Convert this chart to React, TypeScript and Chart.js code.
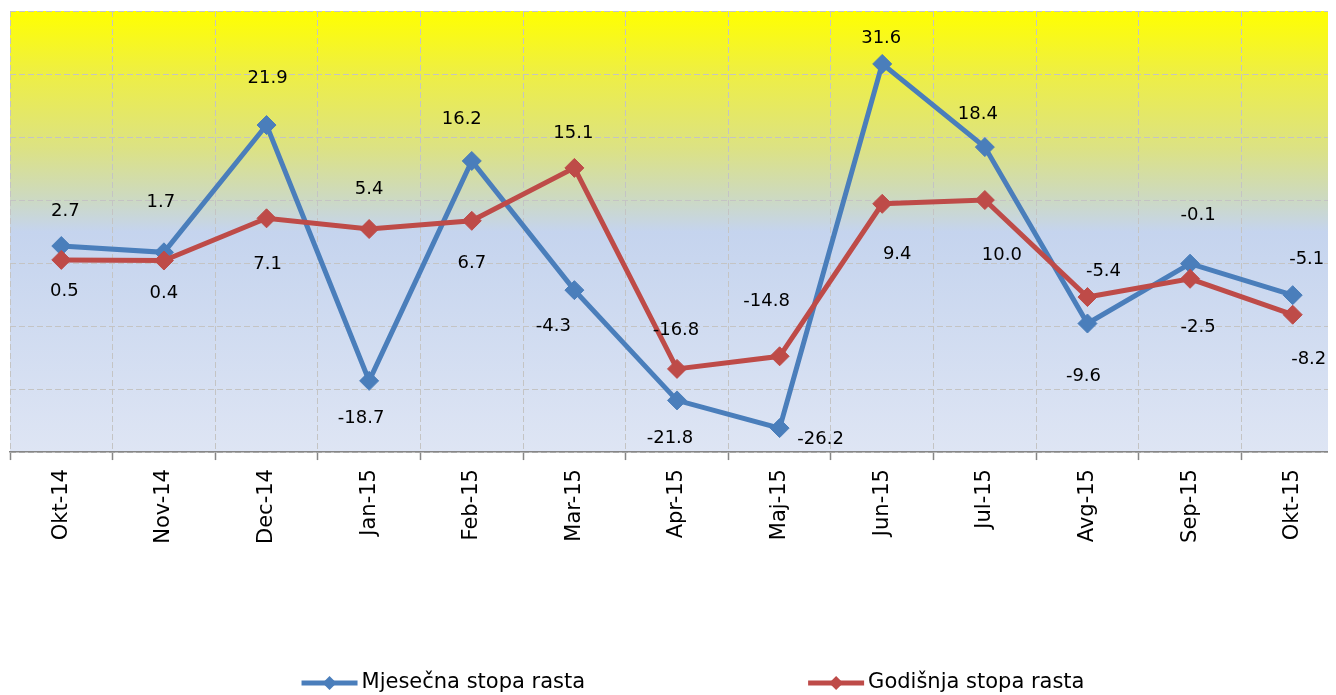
import React, { useEffect, useRef } from 'react';
import { Chart, registerables } from 'chart.js';

Chart.register(...registerables);

// ---------- data ----------
const categories = ['Okt-14', 'Nov-14', 'Dec-14', 'Jan-15', 'Feb-15', 'Mar-15', 'Apr-15', 'Maj-15', 'Jun-15', 'Jul-15', 'Avg-15', 'Sep-15', 'Okt-15'];
const monthlyRate = [2.7, 1.7, 21.9, -18.7, 16.2, -4.3, -21.8, -26.2, 31.6, 18.4, -9.6, -0.1, -5.1];
const annualRate = [0.5, 0.4, 7.1, 5.4, 6.7, 15.1, -16.8, -14.8, 9.4, 10.0, -5.4, -2.5, -8.2];
const seriesNames = ['Mjesečna stopa rasta', 'Godišnja stopa rasta'];
const yMin = -30;
const yMax = 40;
const yStep = 10;

// ---------- styling ----------
const FONT = '"DejaVu Sans", "Liberation Sans", Arial, sans-serif';
const BLUE = '#4A7EBB';
const RED = '#BE4B48';
const GRID = '#C4C4C4';
const AXIS = '#868686';
// data label offsets relative to each point (px)
const monthlyLabelOffsets = [[4, -35], [-3, -50], [1, -47], [-8, 37], [-10, -42], [-21, 36], [-7, 38], [41, 11], [-1, -26], [-7, -33], [-4, 53], [8, -48], [14, -36]];
const annualLabelOffsets = [[3, 31], [0, 33], [1, 46], [0, -40], [0, 43], [-1, -35], [-1, -39], [-13, -55], [15, 51], [17, 55], [16, -26], [8, 49], [16, 45]];
const labelOffsets = [monthlyLabelOffsets, annualLabelOffsets];

const backgroundPlugin = {
  id: 'plotBackground',
  beforeDraw(chart: any) {
    const { ctx, chartArea } = chart;
    if (!chartArea) return;
    const g = ctx.createLinearGradient(0, chartArea.top, 0, chartArea.bottom);
    g.addColorStop(0, '#FFFF00');
    g.addColorStop(0.15, '#EDEE48');
    g.addColorStop(0.31, '#DCE283');
    g.addColorStop(0.43, '#CCD9C4');
    g.addColorStop(0.5, '#C5D4EE');
    g.addColorStop(1, '#DEE5F4');
    ctx.save();
    ctx.fillStyle = g;
    ctx.fillRect(chartArea.left, chartArea.top, chartArea.right - chartArea.left, chartArea.bottom - chartArea.top);
    ctx.restore();
  },
};

const dataLabelPlugin = {
  id: 'pointValueLabels',
  afterDatasetsDraw(chart: any) {
    const { ctx } = chart;
    ctx.save();
    ctx.font = `18px ${FONT}`;
    ctx.fillStyle = '#000000';
    ctx.textAlign = 'center';
    ctx.textBaseline = 'middle';
    chart.data.datasets.forEach((ds: any, di: number) => {
      const meta = chart.getDatasetMeta(di);
      meta.data.forEach((pt: any, i: number) => {
        const v = ds.data[i];
        const off = labelOffsets[di][i] || [0, -30];
        ctx.fillText(Number(v).toFixed(1), pt.x + off[0], pt.y + off[1]);
      });
    });
    ctx.restore();
  },
};

const legendPlugin = {
  id: 'lineLegend',
  afterDraw(chart: any) {
    const { ctx, chartArea } = chart;
    const ds = chart.data.datasets;
    const markerW = 56;
    const textGap = 4;
    const itemGap = 223;
    ctx.save();
    ctx.font = `21px ${FONT}`;
    const widths = ds.map((d: any) => markerW + textGap + ctx.measureText(d.label).width);
    const total = widths.reduce((a: number, b: number) => a + b, 0) + itemGap * (ds.length - 1);
    let x = (chartArea.left + chartArea.right) / 2 + 16 - total / 2;
    const y = chart.height - 12;
    ds.forEach((d: any, i: number) => {
      ctx.strokeStyle = d.borderColor;
      ctx.lineWidth = 5;
      ctx.lineCap = 'butt';
      ctx.beginPath();
      ctx.moveTo(x, y);
      ctx.lineTo(x + markerW, y);
      ctx.stroke();
      const cx = x + markerW / 2;
      const r = 7;
      ctx.fillStyle = d.borderColor;
      ctx.beginPath();
      ctx.moveTo(cx, y - r);
      ctx.lineTo(cx + r, y);
      ctx.lineTo(cx, y + r);
      ctx.lineTo(cx - r, y);
      ctx.closePath();
      ctx.fill();
      ctx.fillStyle = '#000000';
      ctx.textAlign = 'left';
      ctx.textBaseline = 'middle';
      ctx.fillText(d.label, x + markerW + textGap, y);
      x += widths[i] + itemGap;
    });
    ctx.restore();
  },
};

export default function App() {
  const canvasRef = useRef<HTMLCanvasElement | null>(null);

  useEffect(() => {
    document.documentElement.style.overflow = 'hidden';
    const canvas = canvasRef.current;
    if (!canvas) return;
    const chart = new Chart(canvas, {
      type: 'line',
      data: {
        labels: categories,
        datasets: [
          {
            label: seriesNames[0],
            data: monthlyRate,
            borderColor: BLUE,
            backgroundColor: BLUE,
            borderWidth: 5,
            pointStyle: 'rectRot',
            pointRadius: 9.5,
            pointBorderWidth: 1,
            pointBackgroundColor: BLUE,
            pointBorderColor: BLUE,
            tension: 0,
            order: 1,
          },
          {
            label: seriesNames[1],
            data: annualRate,
            borderColor: RED,
            backgroundColor: RED,
            borderWidth: 5,
            pointStyle: 'rectRot',
            pointRadius: 9.5,
            pointBorderWidth: 1,
            pointBackgroundColor: RED,
            pointBorderColor: RED,
            tension: 0,
            order: 0,
          },
        ],
      },
      options: {
        responsive: false,
        animation: false,
        devicePixelRatio: 1,
        layout: { autoPadding: false, padding: { left: 2, top: 3, right: 4, bottom: 142 } },
        plugins: {
          legend: { display: false },
          tooltip: { enabled: false },
        },
        scales: {
          x: {
            offset: true,
            grid: {
              offset: true,
              color: GRID,
              lineWidth: 1,
              drawTicks: true,
              tickLength: 8,
              tickColor: AXIS,
              tickWidth: 1.5,
              tickBorderDash: [],
            },
            border: { display: true, color: AXIS, width: 1.5, dash: [6, 3] },
            ticks: {
              minRotation: 90,
              maxRotation: 90,
              autoSkip: false,
              padding: 9,
              color: '#000000',
              font: { family: FONT, size: 21 },
            },
          },
          y: {
            min: yMin,
            max: yMax,
            ticks: { display: false, stepSize: yStep },
            grid: { color: GRID, lineWidth: 1, drawTicks: false },
            border: { display: false, dash: [6, 3] },
          },
        },
      },
      plugins: [backgroundPlugin, dataLabelPlugin, legendPlugin],
    });
    return () => chart.destroy();
  }, []);

  return (
    <div>
      <canvas ref={canvasRef} width={1340} height={687} style={{ display: 'block' }} />
    </div>
  );
}
